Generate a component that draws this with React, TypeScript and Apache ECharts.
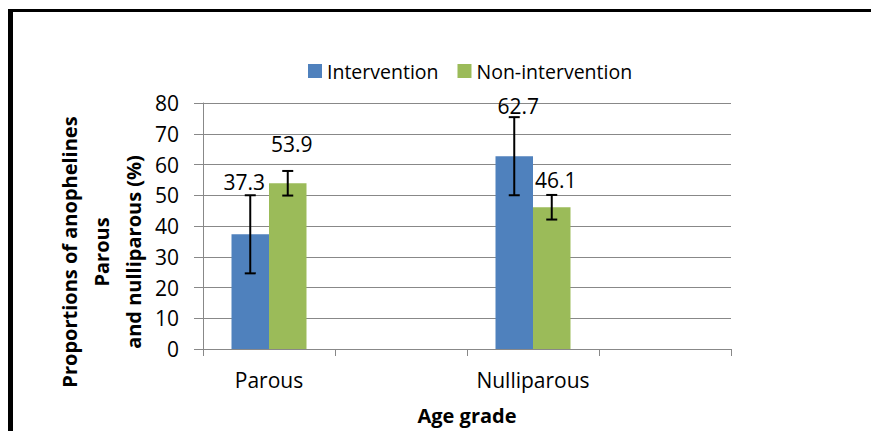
import React, { useEffect, useRef } from "react";
import * as echarts from "echarts";

const categories = ["Parous", " ", "Nulliparous", "  "];
const interventionValues = [37.3, null, 62.7, null];
const nonInterventionValues = [53.9, null, 46.1, null];
const interventionErrors = [12.7, null, 12.7, null];
const nonInterventionErrors = [4.0, null, 4.0, null];
const yTicks = { min: 0, max: 80, interval: 10 };

const FONT = '"Open Sans", "Noto Sans", sans-serif';
const BLUE = "#4F81BD";
const GREEN = "#9BBB59";
const GREY = "#888888";
const BAR_W = 37.5;

// label offsets (style only)
const interventionLabelOffsets = [[-6, -37], null, [4, -35], null];
const nonInterventionLabelOffsets = [[4, -24], null, [4, -12], null];

function barData(values: (number | null)[], offsets: (number[] | null)[]) {
  return values.map((v, i) =>
    v == null
      ? null
      : { value: v, label: { offset: offsets[i] || [0, 0] } }
  );
}

function errData(values: (number | null)[], errs: (number | null)[]) {
  const out: number[][] = [];
  values.forEach((v, i) => {
    if (v != null && errs[i] != null) out.push([i, v, errs[i] as number]);
  });
  return out;
}

function errorSeries(name: string, data: number[][], shift: number) {
  return {
    type: "custom",
    name: name + " error",
    silent: true,
    z: 5,
    data,
    encode: { x: 0, y: 1 },
    renderItem: (params: any, api: any) => {
      const x = api.value(0);
      const y = api.value(1);
      const e = api.value(2);
      const lo = api.coord([x, y - e]);
      const hi = api.coord([x, y + e]);
      const cx = lo[0] + shift;
      const hw = 5.5;
      const style = { stroke: "#000", lineWidth: 2 };
      return {
        type: "group",
        children: [
          { type: "line", shape: { x1: cx, y1: lo[1], x2: cx, y2: hi[1] }, style },
          { type: "line", shape: { x1: cx - hw, y1: lo[1], x2: cx + hw, y2: lo[1] }, style },
          { type: "line", shape: { x1: cx - hw, y1: hi[1], x2: cx + hw, y2: hi[1] }, style },
        ],
      };
    },
  };
}

export default function App() {
  const ref = useRef<HTMLDivElement>(null);
  useEffect(() => {
    if (!ref.current) return;
    const chart = echarts.init(ref.current, undefined, { renderer: "svg" });
    const labelCfg = {
      show: true,
      position: "top",
      color: "#000",
      fontSize: 21,
      fontFamily: FONT,
    };
    chart.setOption({
      animation: false,
      backgroundColor: "#fff",
      textStyle: { fontFamily: FONT },
      legend: {
        data: ["Intervention", "Non-intervention"],
        left: 303,
        top: 56,
        icon: "rect",
        itemWidth: 14,
        itemHeight: 14,
        itemGap: 19,
        textStyle: { fontSize: 19.5, color: "#000", fontFamily: FONT },
      },
      grid: { left: 203, right: 140, top: 103, bottom: 82, containLabel: false },
      xAxis: {
        type: "category",
        data: categories,
        boundaryGap: true,
        axisLine: { lineStyle: { color: GREY, width: 1 } },
        axisTick: { show: true, length: 7, interval: 0, lineStyle: { color: GREY } },
        axisLabel: { color: "#000", fontSize: 21, fontFamily: FONT, margin: 20, interval: 0 },
        splitLine: { show: false },
        name: "Age grade",
        nameLocation: "middle",
        nameGap: 56,
        nameTextStyle: { fontSize: 20, fontWeight: "bold", color: "#000", fontFamily: FONT },
      },
      yAxis: {
        type: "value",
        min: yTicks.min,
        max: yTicks.max,
        interval: yTicks.interval,
        axisLine: { show: true, lineStyle: { color: GREY, width: 1 } },
        axisTick: { show: true, length: 9, lineStyle: { color: GREY } },
        axisLabel: { color: "#000", fontSize: 21, fontFamily: FONT, margin: 24 },
        splitLine: { show: true, lineStyle: { color: GREY, width: 1 } },
      },
      graphic: [
        { type: "rect", shape: { x: 8, y: 9, width: 5, height: 422 }, style: { fill: "#000" } },
        { type: "rect", shape: { x: 8, y: 9, width: 863, height: 3 }, style: { fill: "#000" } },
        {
          type: "text",
          x: 101,
          y: 252,
          rotation: Math.PI / 2,
          style: {
            text: "Proportions of anophelines\nParous\nand nulliparous (%)",
            fontSize: 20,
            fontWeight: "bold",
            fontFamily: FONT,
            fill: "#000",
            align: "center",
            verticalAlign: "middle",
            lineHeight: 32,
          },
        },
      ],
      series: [
        {
          type: "bar",
          name: "Intervention",
          data: barData(interventionValues, interventionLabelOffsets),
          barWidth: BAR_W,
          barGap: "0%",
          itemStyle: { color: BLUE },
          label: labelCfg,
        },
        {
          type: "bar",
          name: "Non-intervention",
          data: barData(nonInterventionValues, nonInterventionLabelOffsets),
          barWidth: BAR_W,
          barGap: "0%",
          itemStyle: { color: GREEN },
          label: labelCfg,
        },
        errorSeries("Intervention", errData(interventionValues, interventionErrors), -BAR_W / 2),
        errorSeries("Non-intervention", errData(nonInterventionValues, nonInterventionErrors), BAR_W / 2),
      ],
    });
    return () => chart.dispose();
  }, []);
  return (
    <div
      ref={ref}
      style={{ position: "fixed", left: 0, top: 0, width: 871, height: 431, background: "#fff" }}
    />
  );
}
